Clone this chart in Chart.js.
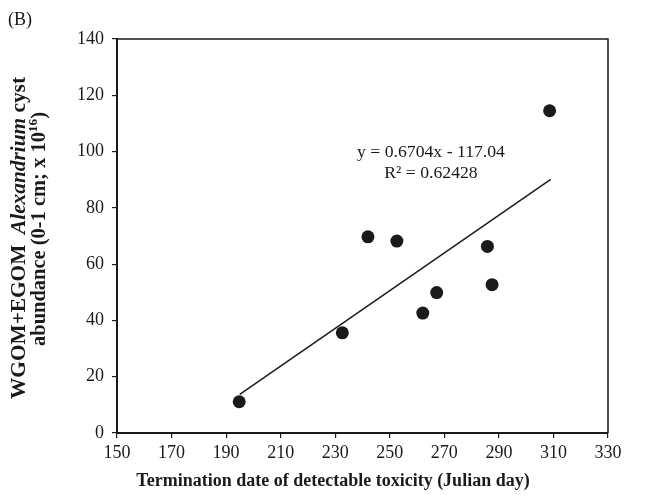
<!DOCTYPE html>
<html>
<head>
<meta charset="utf-8">
<script src="https://cdn.jsdelivr.net/npm/chart.js@4/dist/chart.umd.min.js"></script>
<style>
  html, body { margin: 0; padding: 0; background: #fff; }
  #wrap { width: 659px; height: 495px; }
</style>
</head>
<body>
<div id="wrap"><canvas id="c" width="659" height="495"></canvas></div>
<script>
// Termination date of detectable toxicity (Julian day)
const terminationDay = [194.8, 232.6, 242.0, 252.6, 262.1, 267.2, 285.8, 287.5, 308.6];
// WGOM+EGOM Alexandrium cyst abundance (x 10^16)
const cystAbundance = [11.1, 35.6, 69.7, 68.2, 42.6, 49.9, 66.3, 52.7, 114.5];

// Linear fit as stated on the chart
const fitSlope = 0.6704;
const fitIntercept = -117.04;
const fitR2 = 0.62428;
const fitRange = [195, 309];

const xTicks = [150, 170, 190, 210, 230, 250, 270, 290, 310, 330];
const yTicks = [0, 20, 40, 60, 80, 100, 120, 140];

const INK = '#1a1a1a';
const SERIF = '"Liberation Serif", "Times New Roman", serif';

const scatterPoints = terminationDay.map((d, i) => ({ x: d, y: cystAbundance[i] }));
const fitPoints = fitRange.map(d => ({ x: d, y: fitSlope * d + fitIntercept }));

// Draws a run of differently styled pieces as one line centred on (0,0),
// stretched along its length to span `length` pixels
function drawRuns(ctx, runs, length) {
  let total = 0;
  runs.forEach(r => { ctx.font = r.font; r.w = ctx.measureText(r.text).width; total += r.w; });
  const k = length / total;
  ctx.scale(k, 1);
  let x = -total / 2;
  runs.forEach(r => {
    ctx.font = r.font;
    ctx.fillText(r.text, x, r.dy || 0);
    x += r.w;
  });
}

const decorations = {
  id: 'decorations',
  afterDraw(chart) {
    const ctx = chart.ctx;
    const a = chart.chartArea;
    ctx.save();
    ctx.fillStyle = INK;
    ctx.strokeStyle = INK;

    // top and right frame lines
    ctx.lineWidth = 1.5;
    ctx.beginPath();
    ctx.moveTo(a.left, a.top);
    ctx.lineTo(a.right, a.top);
    ctx.lineTo(a.right, a.bottom);
    ctx.stroke();

    // panel tag
    ctx.textAlign = 'left';
    ctx.textBaseline = 'middle';
    ctx.font = '18px ' + SERIF;
    ctx.fillText('(B)', 8, 20);

    // fit equation
    ctx.textAlign = 'center';
    ctx.font = '17.7px ' + SERIF;
    ctx.fillText('y = ' + fitSlope.toFixed(4) + 'x - ' + Math.abs(fitIntercept).toFixed(2), 431, 152);
    ctx.fillText('R\u00B2 = ' + fitR2.toFixed(5), 431, 173);

    // x axis title
    ctx.font = 'bold 18px ' + SERIF;
    ctx.textBaseline = 'middle';
    ctx.fillText('Termination date of detectable toxicity (Julian day)', 333, 481);

    // y axis title, two rotated lines
    ctx.textAlign = 'left';
    const b = 'bold 20px ' + SERIF;
    const bi = 'italic bold 20px ' + SERIF;
    ctx.save();
    ctx.translate(20, 238);
    ctx.rotate(-Math.PI / 2);
    drawRuns(ctx, [
      { text: 'WGOM+EGOM  ', font: b },
      { text: 'Alexandrium', font: bi },
      { text: ' cyst', font: b }
    ], 322);
    ctx.restore();

    ctx.save();
    ctx.translate(40, 229);
    ctx.rotate(-Math.PI / 2);
    drawRuns(ctx, [
      { text: 'abundance (0-1 cm; x 10', font: b },
      { text: '16', font: 'bold 13px ' + SERIF, dy: -6 },
      { text: ')', font: b }
    ], 234);
    ctx.restore();

    ctx.restore();
  }
};

new Chart(document.getElementById('c'), {
  data: {
    datasets: [
      {
        type: 'scatter',
        data: scatterPoints,
        pointRadius: 6.5,
        pointBackgroundColor: INK,
        pointBorderWidth: 0,
        order: 1
      },
      {
        type: 'line',
        data: fitPoints,
        borderColor: INK,
        borderWidth: 1.5,
        pointRadius: 0,
        fill: false,
        order: 2
      }
    ]
  },
  options: {
    responsive: false,
    animation: false,
    devicePixelRatio: 1,
    layout: { padding: { left: 0, right: 51, top: 39, bottom: 0 } },
    plugins: { legend: { display: false }, tooltip: { enabled: false } },
    scales: {
      x: {
        type: 'linear',
        min: xTicks[0],
        max: xTicks[xTicks.length - 1],
        afterBuildTicks: s => { s.ticks = xTicks.map(v => ({ value: v })); },
        afterFit: s => { s.height = 62; },
        ticks: { color: INK, font: { family: SERIF, size: 18 }, padding: 4, maxRotation: 0 },
        grid: { drawOnChartArea: false, drawTicks: true, tickLength: 5, color: INK, lineWidth: 1.2 },
        border: { color: INK, width: 2 }
      },
      y: {
        type: 'linear',
        min: yTicks[0],
        max: yTicks[yTicks.length - 1],
        afterBuildTicks: s => { s.ticks = yTicks.map(v => ({ value: v })); },
        afterFit: s => { s.width = 117; },
        ticks: { color: INK, font: { family: SERIF, size: 18 }, padding: 8 },
        grid: { drawOnChartArea: false, drawTicks: true, tickLength: 5, color: INK, lineWidth: 1.2 },
        border: { color: INK, width: 2 }
      }
    }
  },
  plugins: [decorations]
});
</script>
</body>
</html>
